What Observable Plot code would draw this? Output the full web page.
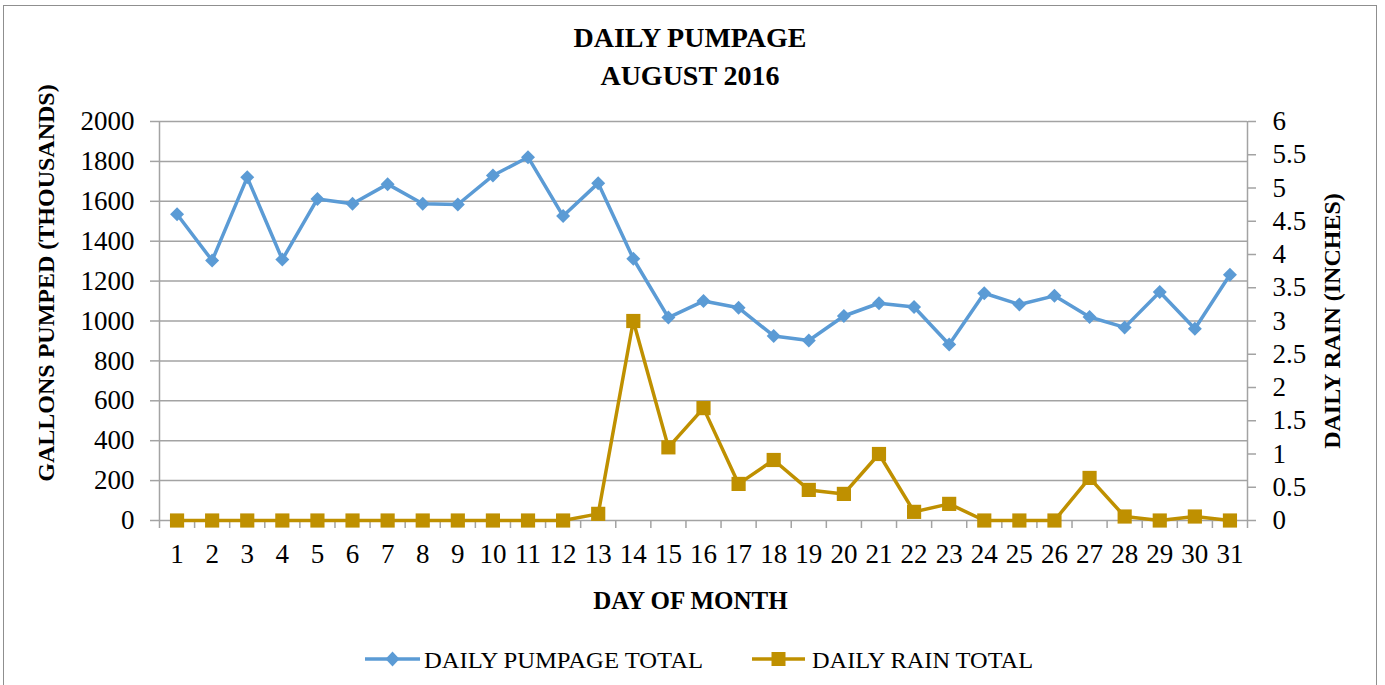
<!DOCTYPE html>
<html><head><meta charset="utf-8">
<script src="https://cdn.jsdelivr.net/npm/d3@7"></script>
<script src="https://cdn.jsdelivr.net/npm/@observablehq/plot@0.6"></script>
<style>
html,body{margin:0;padding:0;background:#fff;overflow:hidden}
#wrap{position:relative;width:1385px;height:685px;font-family:"Liberation Serif",serif}
#frame{position:absolute;left:3px;top:5px;width:1374px;height:720px;border:1.5px solid #8f8f8f;box-sizing:border-box}
#chart{position:absolute;left:0;top:0}
#title{position:absolute;left:0;top:19px;width:1380px;text-align:center;font-weight:bold;font-size:28px;line-height:38px;color:#000}
#legend{position:absolute;left:0;top:630px}
</style></head>
<body><div id="wrap"><div id="frame"></div><div id="chart"></div><div id="title">DAILY PUMPAGE<br>AUGUST 2016</div><div id="legend"></div></div>
<script>
const days = [1,2,3,4,5,6,7,8,9,10,11,12,13,14,15,16,17,18,19,20,21,22,23,24,25,26,27,28,29,30,31];
const pumpage = [1535,1303,1720,1308,1612,1588,1686,1588,1584,1729,1821,1526,1691,1312,1017,1100,1066,925,902,1025,1089,1070,882,1139,1083,1126,1020,968,1145,961,1232];
const rain = [0,0,0,0,0,0,0,0,0,0,0,0,0.10,3.0,1.10,1.69,0.55,0.91,0.46,0.40,1.00,0.13,0.25,0,0,0,0.64,0.06,0,0.06,0];
const leftTicks = [0,200,400,600,800,1000,1200,1400,1600,1800,2000];
const rightTicks = [0,0.5,1,1.5,2,2.5,3,3.5,4,4.5,5,5.5,6];
const seriesNames = ["DAILY PUMPAGE TOTAL","DAILY RAIN TOTAL"];
const colors = ["#5B9BD5","#BF9000"];
const yLabel = "GALLONS PUMPED (THOUSANDS)";
const y2Label = "DAILY RAIN (INCHES)";
const xLabel = "DAY OF MONTH";

const k = 2000 / 6;
const rows = days.map((d, i) => ({day: d, pump: pumpage[i], rain: rain[i]}));
const boundaries = d3.range(0.5, 32, 1);
const grey = "#a3a3a3";

const chart = Plot.plot({
  width: 1385, height: 685,
  marginLeft: 159, marginRight: 138, marginTop: 121, marginBottom: 165,
  x: {type: "linear", domain: [0.5, 31.5]},
  y: {domain: [0, 2000]},
  style: {fontFamily: '"Liberation Serif", serif', fontSize: "27px", color: "black", background: "none", overflow: "visible"},
  marks: [
    Plot.gridY(leftTicks.filter(v => v > 0), {stroke: grey, strokeOpacity: 1, strokeWidth: 1.5}),
    Plot.ruleY([0], {stroke: grey, strokeWidth: 1.5}),
    Plot.ruleX([0.5, 31.5], {stroke: grey, strokeWidth: 1.5}),
    Plot.axisY(leftTicks, {anchor: "left", tickSize: 9, tickPadding: 16, stroke: grey, strokeWidth: 1.5, fill: "black", fontSize: 27, label: null,
      tickFormat: v => String(v)}),
    Plot.axisY(rightTicks.map(v => v * k), {anchor: "right", tickSize: 8, tickPadding: 17, stroke: grey, strokeWidth: 1.5, fill: "black", fontSize: 27, label: null,
      tickFormat: v => d3.format("~g")(Math.round(v / k * 10) / 10)}),
    Plot.axisX(boundaries, {anchor: "bottom", tickSize: 8, tickFormat: () => "", stroke: grey, strokeWidth: 1.5, label: null}),
    Plot.axisX(days, {anchor: "bottom", tickSize: 0, tickPadding: 23, fill: "black", fontSize: 27, tickFormat: d => String(d), label: null}),
    Plot.line(rows, {x: "day", y: "pump", stroke: colors[0], strokeWidth: 3.5}),
    Plot.dot(rows, {x: "day", y: "pump", symbol: "diamond2", r: 6.3, fill: colors[0]}),
    Plot.line(rows, {x: "day", y: d => d.rain * k, stroke: colors[1], strokeWidth: 3.5}),
    Plot.dot(rows, {x: "day", y: d => d.rain * k, symbol: "square", r: 8, fill: colors[1]}),
    Plot.text([yLabel], {text: d => d, frameAnchor: "left", dx: -113, dy: -38, rotate: -90, textAnchor: "middle", lineAnchor: "middle", fontWeight: "bold", fontSize: 24, fill: "black"}),
    Plot.text([y2Label], {text: d => d, frameAnchor: "right", dx: 85, dy: 0, rotate: -90, textAnchor: "middle", lineAnchor: "middle", fontWeight: "bold", fontSize: 24, fill: "black"}),
    Plot.text([xLabel], {text: d => d, frameAnchor: "bottom", dx: -13, dy: 80, textAnchor: "middle", lineAnchor: "middle", fontWeight: "bold", fontSize: 25, fill: "black"})
  ]
});
document.getElementById("chart").appendChild(chart);

// legend
const lg = d3.create("svg").attr("width", 1385).attr("height", 50);
const entries = [
  {x1: 365, x2: 420, tx: 424, tl: 279, sym: "diamond"},
  {x1: 752, x2: 805, tx: 812, tl: 221, sym: "square"}
];
entries.forEach((e, i) => {
  const cx = (e.x1 + e.x2) / 2, cy = 29;
  lg.append("line").attr("x1", e.x1).attr("x2", e.x2).attr("y1", cy).attr("y2", cy)
    .attr("stroke", colors[i]).attr("stroke-width", 3.5);
  if (e.sym === "diamond") {
    lg.append("path").attr("d", `M${cx},${cy-7.5}L${cx+7},${cy}L${cx},${cy+7.5}L${cx-7},${cy}Z`).attr("fill", colors[i]);
  } else {
    lg.append("rect").attr("x", cx - 7).attr("y", cy - 7).attr("width", 14).attr("height", 14).attr("fill", colors[i]);
  }
  lg.append("text").attr("x", e.tx).attr("y", 38).attr("font-family", '"Liberation Serif", serif').attr("font-size", 24)
    .attr("textLength", e.tl).attr("lengthAdjust", "spacingAndGlyphs").attr("fill", "black").text(seriesNames[i]);
});
document.getElementById("legend").appendChild(lg.node());
</script>
</body></html>
